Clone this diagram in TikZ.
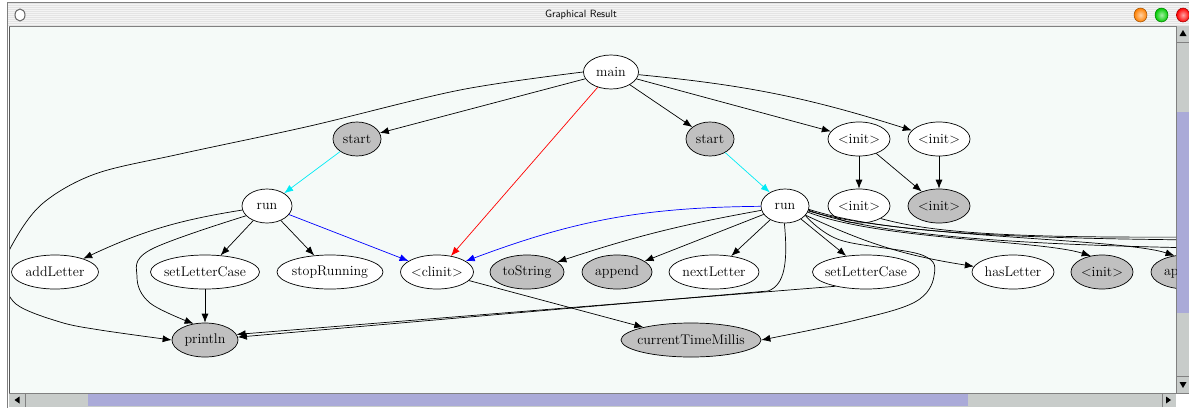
\documentclass[tikz,border=0pt]{standalone}
\usetikzlibrary{arrows.meta, shapes.geometric}

\definecolor{canvasbg}{RGB}{245,250,248}
\definecolor{libgray}{RGB}{192,192,192}
\definecolor{framegray}{RGB}{228,228,228}
\definecolor{trackgray}{RGB}{200,204,202}
\definecolor{thumbblue}{RGB}{170,170,216}
\definecolor{linkcyan}{RGB}{0,235,245}
\definecolor{linkblue}{RGB}{0,0,255}
\definecolor{linkred}{RGB}{255,0,0}

\begin{document}
\begin{tikzpicture}[
            x=1pt, y=1pt,
            >={Latex[length=9pt,width=7pt]},
            call/.style={ellipse, draw, line width=0.7pt, fill=white, minimum height=34pt,
                inner xsep=-5pt, inner ysep=2pt, font=\fontsize{14}{16}\selectfont},
            lib/.style={call, fill=libgray},
            link/.style={->, line width=0.7pt},
            winball/.style={draw=#1!60!black, line width=0.5pt, inner color=#1!35!white, outer color=#1},
            every node/.style={align=center}
        ]
        \useasboundingbox (0,0) rectangle (1189,-408);

        % Window frame
        \fill[white] (0,0) rectangle (1189,-408);
        \fill[framegray] (7,-2) rectangle (1189,-26);
        \foreach \y in {4,6,...,24}
            \draw[white!60!framegray, line width=0.6pt] (7,-\y) -- (1189,-\y);
        \draw[gray] (7,-2) -- (1189,-2);
        \draw[gray] (7,-2) -- (7,-408);
        \node[font=\sffamily\fontsize{10.5}{12}\selectfont] (title) at (581,-15) {Graphical Result};
        \draw[gray!80!black, fill=white, line width=1pt] (20,-15) ellipse (5 and 6);
        \shade[winball=orange] (1140.5,-15) ellipse (6.5 and 7);
        \shade[winball=green!80!black] (1161.5,-15) ellipse (6.5 and 7);
        \shade[winball=red] (1183,-15) ellipse (6.5 and 7);

        % Canvas
        \fill[canvasbg] (9,-26) rectangle (1176,-393);
        \draw[gray!70!black] (9.5,-26) -- (9.5,-393);
        \draw[gray] (9,-26) -- (1176,-26);

        % Scrollbars
        \fill[trackgray] (1176,-26) rectangle (1189,-393);
        \fill[thumbblue] (1177,-112) rectangle (1189,-313);
        \draw[gray] (1176,-26) -- (1176,-393);
        \draw[gray] (1176,-42) -- (1189,-42);
        \draw[gray] (1176,-376) -- (1189,-376);
        \fill (1183,-30) -- (1179.5,-36) -- (1186.5,-36) -- cycle;
        \fill (1179.5,-382) -- (1186.5,-382) -- (1183,-388) -- cycle;

        \fill[trackgray] (9,-393) rectangle (1176,-407);
        \fill[thumbblue] (88,-394) rectangle (968,-406);
        \draw[gray] (9,-393) -- (1189,-393);
        \draw[gray] (25,-393) -- (25,-407);
        \draw[gray] (1162,-393) -- (1162,-407);
        \fill (14.5,-400) -- (19.5,-396.5) -- (19.5,-403.5) -- cycle;
        \fill (1171,-400) -- (1166,-396.5) -- (1166,-403.5) -- cycle;

        \begin{scope}
        \clip (10,-27) rectangle (1176,-393);

        % Calls
        \node[call, minimum width=55pt] (main) at (611,-72) {main};

        \node[lib, minimum width=48pt] (startL) at (357,-139) {start};
        \node[lib, minimum width=48pt] (startR) at (710,-139) {start};
        \node[call, minimum width=62pt] (initA) at (859,-139) {<init>};
        \node[call, minimum width=62pt] (initB) at (939,-139) {<init>};

        \node[call, minimum width=50pt] (runL) at (267,-206) {run};
        \node[call, minimum width=48pt] (runR) at (785,-206) {run};
        \node[call, minimum width=62pt] (initC) at (859,-206) {<init>};
        \node[lib, minimum width=62pt] (initD) at (939,-206) {<init>};

        \node[call, minimum width=87pt] (addLetter) at (55,-272) {addLetter};
        \node[call, minimum width=109pt] (slcL) at (205,-272) {setLetterCase};
        \node[call, minimum width=106pt] (stopRunning) at (330,-272) {stopRunning};
        \node[call, minimum width=73pt] (clinit) at (437,-272) {<clinit>};
        \node[lib, minimum width=74pt] (toString) at (527,-272) {toString};
        \node[lib, minimum width=70pt] (appendL) at (617,-272) {append};
        \node[call, minimum width=90pt] (nextLetter) at (714,-272) {nextLetter};
        \node[call, minimum width=107pt] (slcR) at (866,-272) {setLetterCase};
        \node[call, minimum width=82pt] (hasLetter) at (1013,-272) {hasLetter};
        \node[lib, minimum width=62pt] (initE) at (1102,-272) {<init>};
        \node[lib, minimum width=70pt] (appendR) at (1186,-272) {append};

        \node[lib, minimum width=66pt] (println) at (205,-340) {println};
        \node[lib, minimum width=140pt] (ctm) at (691,-340) {currentTimeMillis};

        % ends that leave the canvas
        \coordinate (offA) at (1200,-237);
        \coordinate (offB) at (1200,-240);
        \coordinate (offC) at (1200,-248);

        % main
        \draw[link] (main) -- (startL);
        \draw[link] (main) -- (startR);
        \draw[link] (main) -- (initA);
        \draw[link] (main) to[bend left=6] (initB);
        \draw[link, linkred] (main) -- (clinit);
        \draw[link] plot[smooth, tension=0.55] coordinates {(main.west) (460,-90) (310,-126)
            (180,-154) (95,-174) (42,-204) (12,-245) (3,-275) (16,-304) (60,-322) (100,-330) (println.west)};

        \draw[link, linkcyan] (startL) -- (runL);
        \draw[link, linkcyan] (startR) -- (runR);

        % run (left)
        \draw[link] (runL) to[bend right=8] (addLetter);
        \draw[link] (runL) -- (slcL);
        \draw[link] (runL) -- (stopRunning);
        \draw[link, linkblue] (runL) -- (clinit);
        \draw[link] plot[smooth, tension=0.6] coordinates {(runL.205) (150,-250) (137,-277)
            (150,-303) (println.125)};
        \draw[link] (slcL) -- (println);

        % run (right)
        \draw[link, linkblue] (runR) to[bend right=10] (clinit);
        \draw[link] (runR) to[bend right=4] (toString);
        \draw[link] (runR) -- (appendL);
        \draw[link] (runR) -- (nextLetter);
        \draw[link] (runR) -- (slcR);
        \draw[link] (runR) to[bend right=8] (hasLetter);
        \draw[link] (runR.-15) .. controls (880,-240) and (1040,-240) .. (initE.125);
        \draw[link] (runR.-12) .. controls (900,-238) and (1120,-238) .. (appendR.125);
        \draw[link] (runR.-8) .. controls (880,-232) and (1000,-238) .. (offB);
        \draw[link] (runR.-10) .. controls (880,-238) and (1050,-245) .. (offC);
        \draw[link] (runR.268) .. controls (788,-262) and (785,-285) .. (768,-291) -- (println.5);
        \draw[link] plot[smooth, tension=0.6] coordinates {(runR.-25) (840,-240) (922,-255)
            (934,-276) (915,-302) (852,-321) (ctm.east)};
        \draw[link] (slcR.205) -- (println.10);
        \draw[link] (clinit) -- (ctm);

        % <init>
        \draw[link] (initA) -- (initC);
        \draw[link] (initA) -- (initD);
        \draw[link] (initB) -- (initD);
        \draw[link] (initC.-30) .. controls (930,-232) and (1000,-238) .. (offA);
        \end{scope}

    \end{tikzpicture}
\end{document}
